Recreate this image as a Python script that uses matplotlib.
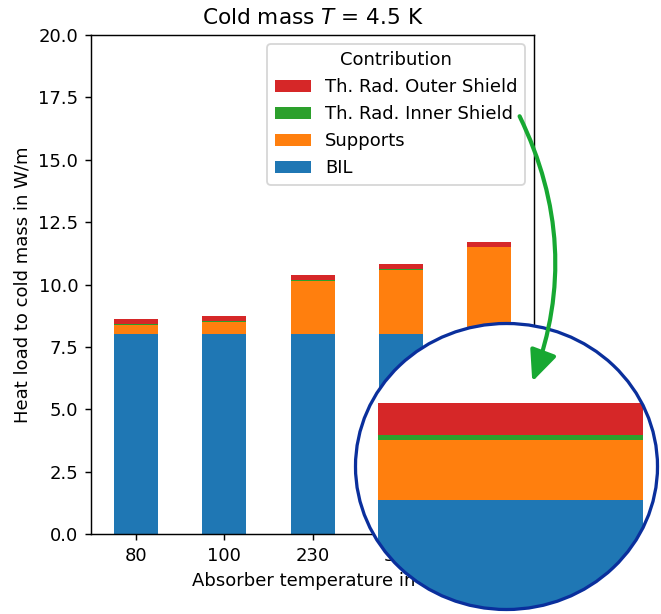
import matplotlib
matplotlib.use("Agg")
import matplotlib.pyplot as plt
import numpy as np
from matplotlib.patches import Ellipse, FancyArrowPatch

categories = ['80', '100', '230', '300', '400']
bil = [8.0, 8.0, 8.0, 8.0, 8.0]
supports = [0.38, 0.5, 2.15, 2.58, 3.5]
inner_shield = [0.03, 0.03, 0.04, 0.03, 0.02]
outer_shield = [0.2, 0.2, 0.2, 0.2, 0.2]
series_names = ['BIL', 'Supports', 'Th. Rad. Inner Shield', 'Th. Rad. Outer Shield']
series_colors = ['#1f77b4', '#ff7f0e', '#2ca02c', '#d62728']

DPI = 130
W, H = 661, 614
fig = plt.figure(figsize=(W / DPI, H / DPI), dpi=DPI)

def px_rect(x0, y0, x1, y1):
    return [x0 / W, (H - y1) / H, (x1 - x0) / W, (y1 - y0) / H]

ax = fig.add_axes(px_rect(91, 35, 534, 534))
x = np.arange(len(categories))
series = [bil, supports, inner_shield, outer_shield]

def draw_stack(a, width=0.5):
    bottom = np.zeros(len(categories))
    handles = []
    for vals, name, col in zip(series, series_names, series_colors):
        bars = a.bar(x, vals, width, bottom=bottom, color=col, label=name)
        bottom = bottom + np.array(vals)
        handles.append(bars)
    return handles, bottom

handles, totals = draw_stack(ax)
ax.set_ylim(0, 20)
ax.set_xlim(-0.51, 4.505)
ax.set_xticks(x)
ax.set_xticklabels(categories)
ax.set_ylabel('Heat load to cold mass in W/m')
ax.set_xlabel('Absorber temperature in K')
ax.set_title('Cold mass $T$ = 4.5 K')
ax.legend(handles[::-1], series_names[::-1], title='Contribution', loc='upper right')

# magnified inset (ellipse) of the top of the first bar
axin = fig.add_axes(px_rect(355.5, 323.5, 657.5, 609.5))
axin.set_zorder(5)
axin.set_axis_off()
bg = Ellipse((0.5, 0.5), 1, 1, transform=axin.transAxes, facecolor='white',
             edgecolor='none', zorder=0, clip_on=False)
axin.add_patch(bg)
hin, _ = draw_stack(axin)
for h in hin:
    for p in h.patches:
        p.set_clip_path(bg)
top0 = totals[0]
axin.set_xlim(-0.293, 0.277)
axin.set_ylim(top0 - 1.305, top0 + 0.505)
ring = Ellipse((0.5, 0.5), 1, 1, transform=axin.transAxes, facecolor='none',
               edgecolor='#0a2f9c', lw=1.8, zorder=10, clip_on=False)
axin.add_patch(ring)

arrow = FancyArrowPatch((518 / W, (H - 113) / H), (531 / W, (H - 385) / H),
                        transform=fig.transFigure,
                        connectionstyle='arc3,rad=-0.22',
                        arrowstyle='-|>,head_length=0.9,head_width=0.4',
                        mutation_scale=16, color='#17a832', lw=2.3, zorder=20)
fig.patches.append(arrow)

fig.savefig('out.png', dpi=DPI)
